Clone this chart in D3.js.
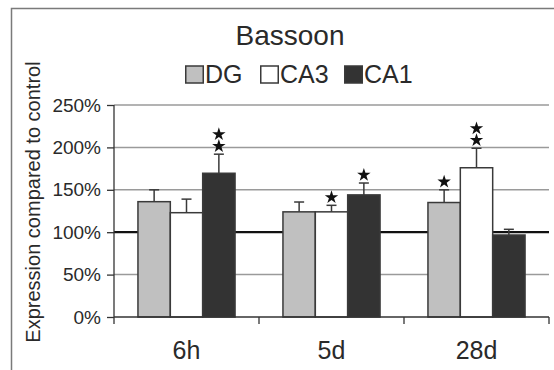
<!DOCTYPE html>
<html>
<head>
<meta charset="utf-8">
<script src="https://cdn.jsdelivr.net/npm/d3@7"></script>
<style>
  html, body { margin: 0; padding: 0; background: #fff; }
  svg { display: block; }
  text { font-family: "Liberation Sans", Arial, Helvetica, sans-serif; fill: #2a2a2a; }
</style>
</head>
<body>
<svg id="chart" width="554" height="370"></svg>
<script>
// Time points after treatment and hippocampal regions
const categories = ["6h", "5d", "28d"];
const series = ["DG", "CA3", "CA1"];
const seriesColors = ["#c0c0c0", "#ffffff", "#333333"];

// Mean expression (% of control) per region, in category order
const dgValues  = [136, 124, 135];
const ca3Values = [123, 124, 176];
const ca1Values = [169.5, 144, 96.7];

// Upward error (SEM, % points)
const dgErrors  = [14, 11.6, 15];
const ca3Errors = [16, 7.7, 23];
const ca1Errors = [22.5, 14, 6.7];

// Number of significance stars above each bar
const dgStars  = [0, 0, 1];
const ca3Stars = [0, 1, 2];
const ca1Stars = [2, 1, 0];

const yTicks = [0, 50, 100, 150, 200, 250];
const controlLevel = 100;

const valuesBySeries = [dgValues, ca3Values, ca1Values];
const errorsBySeries = [dgErrors, ca3Errors, ca1Errors];
const starsBySeries  = [dgStars, ca3Stars, ca1Stars];

const rows = [];
categories.forEach((c, ci) => {
  series.forEach((s, si) => {
    rows.push({
      cat: c, ser: s, si,
      value: valuesBySeries[si][ci],
      err: errorsBySeries[si][ci],
      stars: starsBySeries[si][ci]
    });
  });
});

const svg = d3.select("#chart");

// Outer frame (only top and left edges fall inside the view)
svg.append("path")
  .attr("d", "M11.5,370 L11.5,8.5 L554,8.5")
  .attr("fill", "none")
  .attr("stroke", "#7a7a7a")
  .attr("stroke-width", 1.5);

const plot = { left: 114, right: 549, top: 105, bottom: 317 };

const x0 = d3.scaleBand().domain(categories).range([plot.left, plot.right]).padding(0);
const x1 = d3.scaleBand().domain(series).range([0, x0.bandwidth()])
  .paddingInner(0).paddingOuter(0.74);
const y = d3.scaleLinear().domain([0, 250]).range([plot.bottom, plot.top]);

// Horizontal gridlines
svg.append("g")
  .selectAll("line")
  .data(yTicks.filter(t => t > 0))
  .join("line")
  .attr("x1", plot.left).attr("x2", plot.right)
  .attr("y1", d => y(d)).attr("y2", d => y(d))
  .attr("stroke", "#9a9a9a")
  .attr("stroke-width", 1.5);

// Control reference line at 100%
svg.append("line")
  .attr("x1", plot.left).attr("x2", plot.right)
  .attr("y1", y(controlLevel)).attr("y2", y(controlLevel))
  .attr("stroke", "#111")
  .attr("stroke-width", 2.2);

// Bars
const bars = svg.append("g");
bars.selectAll("rect")
  .data(rows)
  .join("rect")
  .attr("x", d => x0(d.cat) + x1(d.ser))
  .attr("y", d => y(d.value))
  .attr("width", x1.bandwidth())
  .attr("height", d => y(0) - y(d.value))
  .attr("fill", d => seriesColors[d.si])
  .attr("stroke", "#3a3a3a")
  .attr("stroke-width", 1.5);

// Error bars (upward only)
const eb = svg.append("g").attr("stroke", "#3a3a3a").attr("stroke-width", 1.5);
rows.forEach(d => {
  const cx = x0(d.cat) + x1(d.ser) + x1.bandwidth() / 2;
  eb.append("line")
    .attr("x1", cx).attr("x2", cx)
    .attr("y1", y(d.value)).attr("y2", y(d.value + d.err));
  eb.append("line")
    .attr("x1", cx - 5).attr("x2", cx + 5)
    .attr("y1", y(d.value + d.err)).attr("y2", y(d.value + d.err));
});

// Significance stars
const star = d3.symbol().type(d3.symbolStar).size(56);
const starG = svg.append("g");
rows.forEach(d => {
  const cx = x0(d.cat) + x1(d.ser) + x1.bandwidth() / 2;
  for (let k = 0; k < d.stars; k++) {
    starG.append("path")
      .attr("d", star())
      .attr("transform", `translate(${cx},${y(d.value + d.err) - 8 - k * 11.8})`)
      .attr("fill", "#111");
  }
});

// Y axis
const yAxis = d3.axisLeft(y)
  .tickValues(yTicks)
  .tickFormat(d => d + "%")
  .tickSizeInner(7)
  .tickSizeOuter(0)
  .tickPadding(6);
const yg = svg.append("g")
  .attr("transform", `translate(${plot.left},0)`)
  .call(yAxis);
yg.select(".domain").remove();
yg.selectAll(".tick line").attr("stroke", "#333").attr("stroke-width", 1.3);
yg.selectAll(".tick text")
  .style("font-family", "\"Liberation Sans\", Arial, sans-serif")
  .style("font-size", "19px")
  .attr("fill", "#333");
svg.append("line")
  .attr("x1", plot.left).attr("x2", plot.left)
  .attr("y1", plot.top).attr("y2", plot.bottom + 7)
  .attr("stroke", "#333").attr("stroke-width", 1.3);

// X axis: baseline, boundary ticks and centred labels
svg.append("line")
  .attr("x1", plot.left).attr("x2", plot.right)
  .attr("y1", plot.bottom).attr("y2", plot.bottom)
  .attr("stroke", "#333").attr("stroke-width", 1.5);
const boundaries = categories.map(c => x0(c) + x0.bandwidth());
svg.append("g").selectAll("line")
  .data(boundaries)
  .join("line")
  .attr("x1", d => d).attr("x2", d => d)
  .attr("y1", plot.bottom).attr("y2", plot.bottom + 7)
  .attr("stroke", "#333").attr("stroke-width", 1.3);
svg.append("g").selectAll("text")
  .data(categories)
  .join("text")
  .attr("x", d => x0(d) + x0.bandwidth() / 2)
  .attr("y", 359)
  .attr("text-anchor", "middle")
  .style("font-size", "25px")
  .text(d => d);

// Y axis title
svg.append("text")
  .attr("transform", "translate(40,202) rotate(-90)")
  .attr("text-anchor", "middle")
  .style("font-size", "20px")
  .attr("fill", "#333")
  .text("Expression compared to control");

// Title
svg.append("text")
  .attr("x", 290)
  .attr("y", 45)
  .attr("text-anchor", "middle")
  .style("font-size", "28px")
  .text("Bassoon");

// Legend
const legendItems = [
  { name: "DG", x: 185 },
  { name: "CA3", x: 260 },
  { name: "CA1", x: 344 }
];
const lg = svg.append("g");
legendItems.forEach((it, i) => {
  lg.append("rect")
    .attr("x", it.x + 0.75).attr("y", 66)
    .attr("width", 17.5).attr("height", 17)
    .attr("fill", seriesColors[i])
    .attr("stroke", "#3a3a3a")
    .attr("stroke-width", 1.5);
  lg.append("text")
    .attr("x", it.x + 20)
    .attr("y", 83)
    .style("font-size", "25px")
    .text(it.name);
});
</script>
</body>
</html>
